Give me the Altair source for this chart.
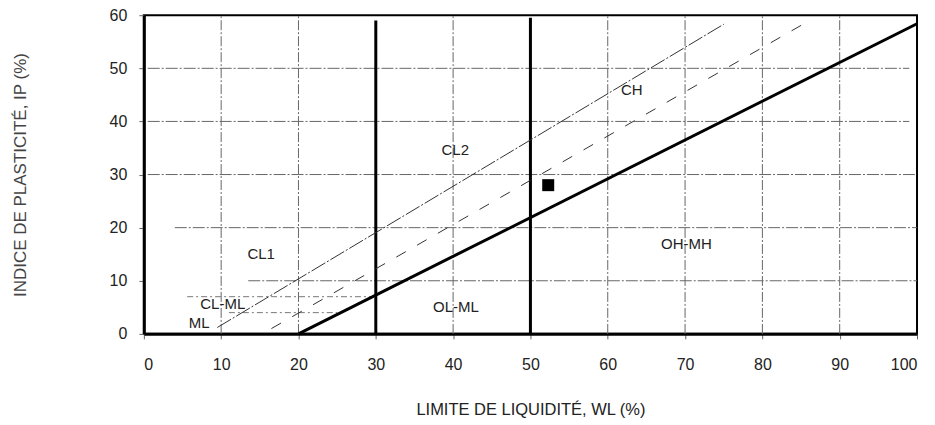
import altair as alt
import pandas as pd

# ---- data ----
x_ticks = list(range(0, 101, 10))
y_ticks = list(range(0, 61, 10))

grid_x = [10, 20, 40, 60, 70, 80, 90]
grid_y = [10, 20, 30, 40, 50]
grid_y_start = [13.5, 4, 0.5, 0.5, 0.5]
grid_y_end = [100, 100, 100, 99, 99]

thick_x = [30, 50]
thick_top = [59, 59.5]

a_wl = [20, 100]
a_ip = [0, 58.4]
u_wl = [9.5, 75]
u_ip = [1.2, 58.3]
d_wl = [16.5, 85.5]
d_ip = [1.0, 58.5]

band_ip = [4, 7]
band_start = [11, 5.6]
band_end = [25, 29.7]

labels = ["CH", "CL2", "CL1", "CL-ML", "ML", "OL-ML", "OH-MH"]
label_wl = [61.7, 38.5, 13.4, 7.3, 5.8, 37.4, 66.9]
label_ip = [46, 34.7, 15, 5.6, 2, 5.1, 16.9]

sample_wl = [52.3]
sample_ip = [28]

# ---- chart ----
xs = alt.Scale(domain=[0, 100], nice=False, zero=False)
ys = alt.Scale(domain=[0, 60], nice=False, zero=False)
FONT = "Liberation Sans"

xaxis = alt.Axis(values=x_ticks, grid=False, title="LIMITE DE LIQUIDITÉ, WL (%)",
                 labelFont=FONT, labelFontSize=16, labelColor="#222",
                 tickColor="#666", tickSize=5, labelPadding=18,
                 domainColor="black", domainWidth=3,
                 titleFont=FONT, titleFontSize=16.5, titleFontWeight="normal",
                 titleColor="#222", titlePadding=29)
yaxis = alt.Axis(values=y_ticks, grid=False, title="INDICE DE PLASTICITÉ, IP (%)",
                 labelFont=FONT, labelFontSize=16, labelColor="#222",
                 tickColor="#666", tickSize=5, labelPadding=12,
                 domainColor="black", domainWidth=3,
                 titleFont=FONT, titleFontSize=17, titleFontWeight="normal",
                 titleColor="#444", titlePadding=80)

df_gx = pd.DataFrame({"x": grid_x})
vgrid = alt.Chart(df_gx).mark_rule(color="#666", strokeWidth=1, strokeDash=[10, 2, 2, 2]).encode(
    x=alt.X("x:Q", scale=xs, axis=xaxis),
    y=alt.Y("y0:Q", scale=ys, axis=yaxis),
    y2="y1:Q",
).transform_calculate(y0="0", y1="60")

df_gy = pd.DataFrame({"y": grid_y, "s": grid_y_start, "e": grid_y_end})
hgrid = alt.Chart(df_gy).mark_rule(color="#666", strokeWidth=1, strokeDash=[12, 2, 2, 2]).encode(
    x=alt.X("s:Q", scale=xs), x2="e:Q", y=alt.Y("y:Q", scale=ys))

df_band = pd.DataFrame({"y": band_ip, "s": band_start, "e": band_end})
band = alt.Chart(df_band).mark_rule(color="#777", strokeWidth=1, strokeDash=[6, 3, 2, 3]).encode(
    x=alt.X("s:Q", scale=xs), x2="e:Q", y=alt.Y("y:Q", scale=ys))

df_tx = pd.DataFrame({"x": thick_x, "t": thick_top})
thick = alt.Chart(df_tx).mark_rule(color="black", strokeWidth=3).encode(
    x=alt.X("x:Q", scale=xs), y=alt.Y("b:Q", scale=ys), y2="t:Q").transform_calculate(b="0")

df_a = pd.DataFrame({"wl": a_wl, "ip": a_ip})
aline = alt.Chart(df_a).mark_line(color="black", strokeWidth=3).encode(
    x=alt.X("wl:Q", scale=xs), y=alt.Y("ip:Q", scale=ys))

df_u = pd.DataFrame({"wl": u_wl, "ip": u_ip})
uline = alt.Chart(df_u).mark_line(color="#333", strokeWidth=1, strokeDash=[16, 2, 2, 2]).encode(
    x=alt.X("wl:Q", scale=xs), y=alt.Y("ip:Q", scale=ys))

df_d = pd.DataFrame({"wl": d_wl, "ip": d_ip})
dline = alt.Chart(df_d).mark_line(color="#333", strokeWidth=1, strokeDash=[11, 13]).encode(
    x=alt.X("wl:Q", scale=xs), y=alt.Y("ip:Q", scale=ys))

df_l = pd.DataFrame({"t": labels, "wl": label_wl, "ip": label_ip})
text = alt.Chart(df_l).mark_text(font=FONT, fontSize=15, color="#222", align="left",
                                 baseline="middle").encode(
    x=alt.X("wl:Q", scale=xs), y=alt.Y("ip:Q", scale=ys), text="t:N")

df_s = pd.DataFrame({"wl": sample_wl, "ip": sample_ip})
sample = alt.Chart(df_s).mark_square(color="black", size=144, opacity=1, filled=True).encode(
    x=alt.X("wl:Q", scale=xs), y=alt.Y("ip:Q", scale=ys))

chart = alt.layer(vgrid, hgrid, band, thick, uline, dline, aline, text, sample).properties(
    width=774, height=319,
    autosize=alt.AutoSizeParams(type="none"),
    padding={"left": 136, "top": 7, "right": 10, "bottom": 90},
).configure_view(stroke="black", strokeWidth=2)

chart.save("out.html", embed_options={"renderer": "svg", "actions": False})
